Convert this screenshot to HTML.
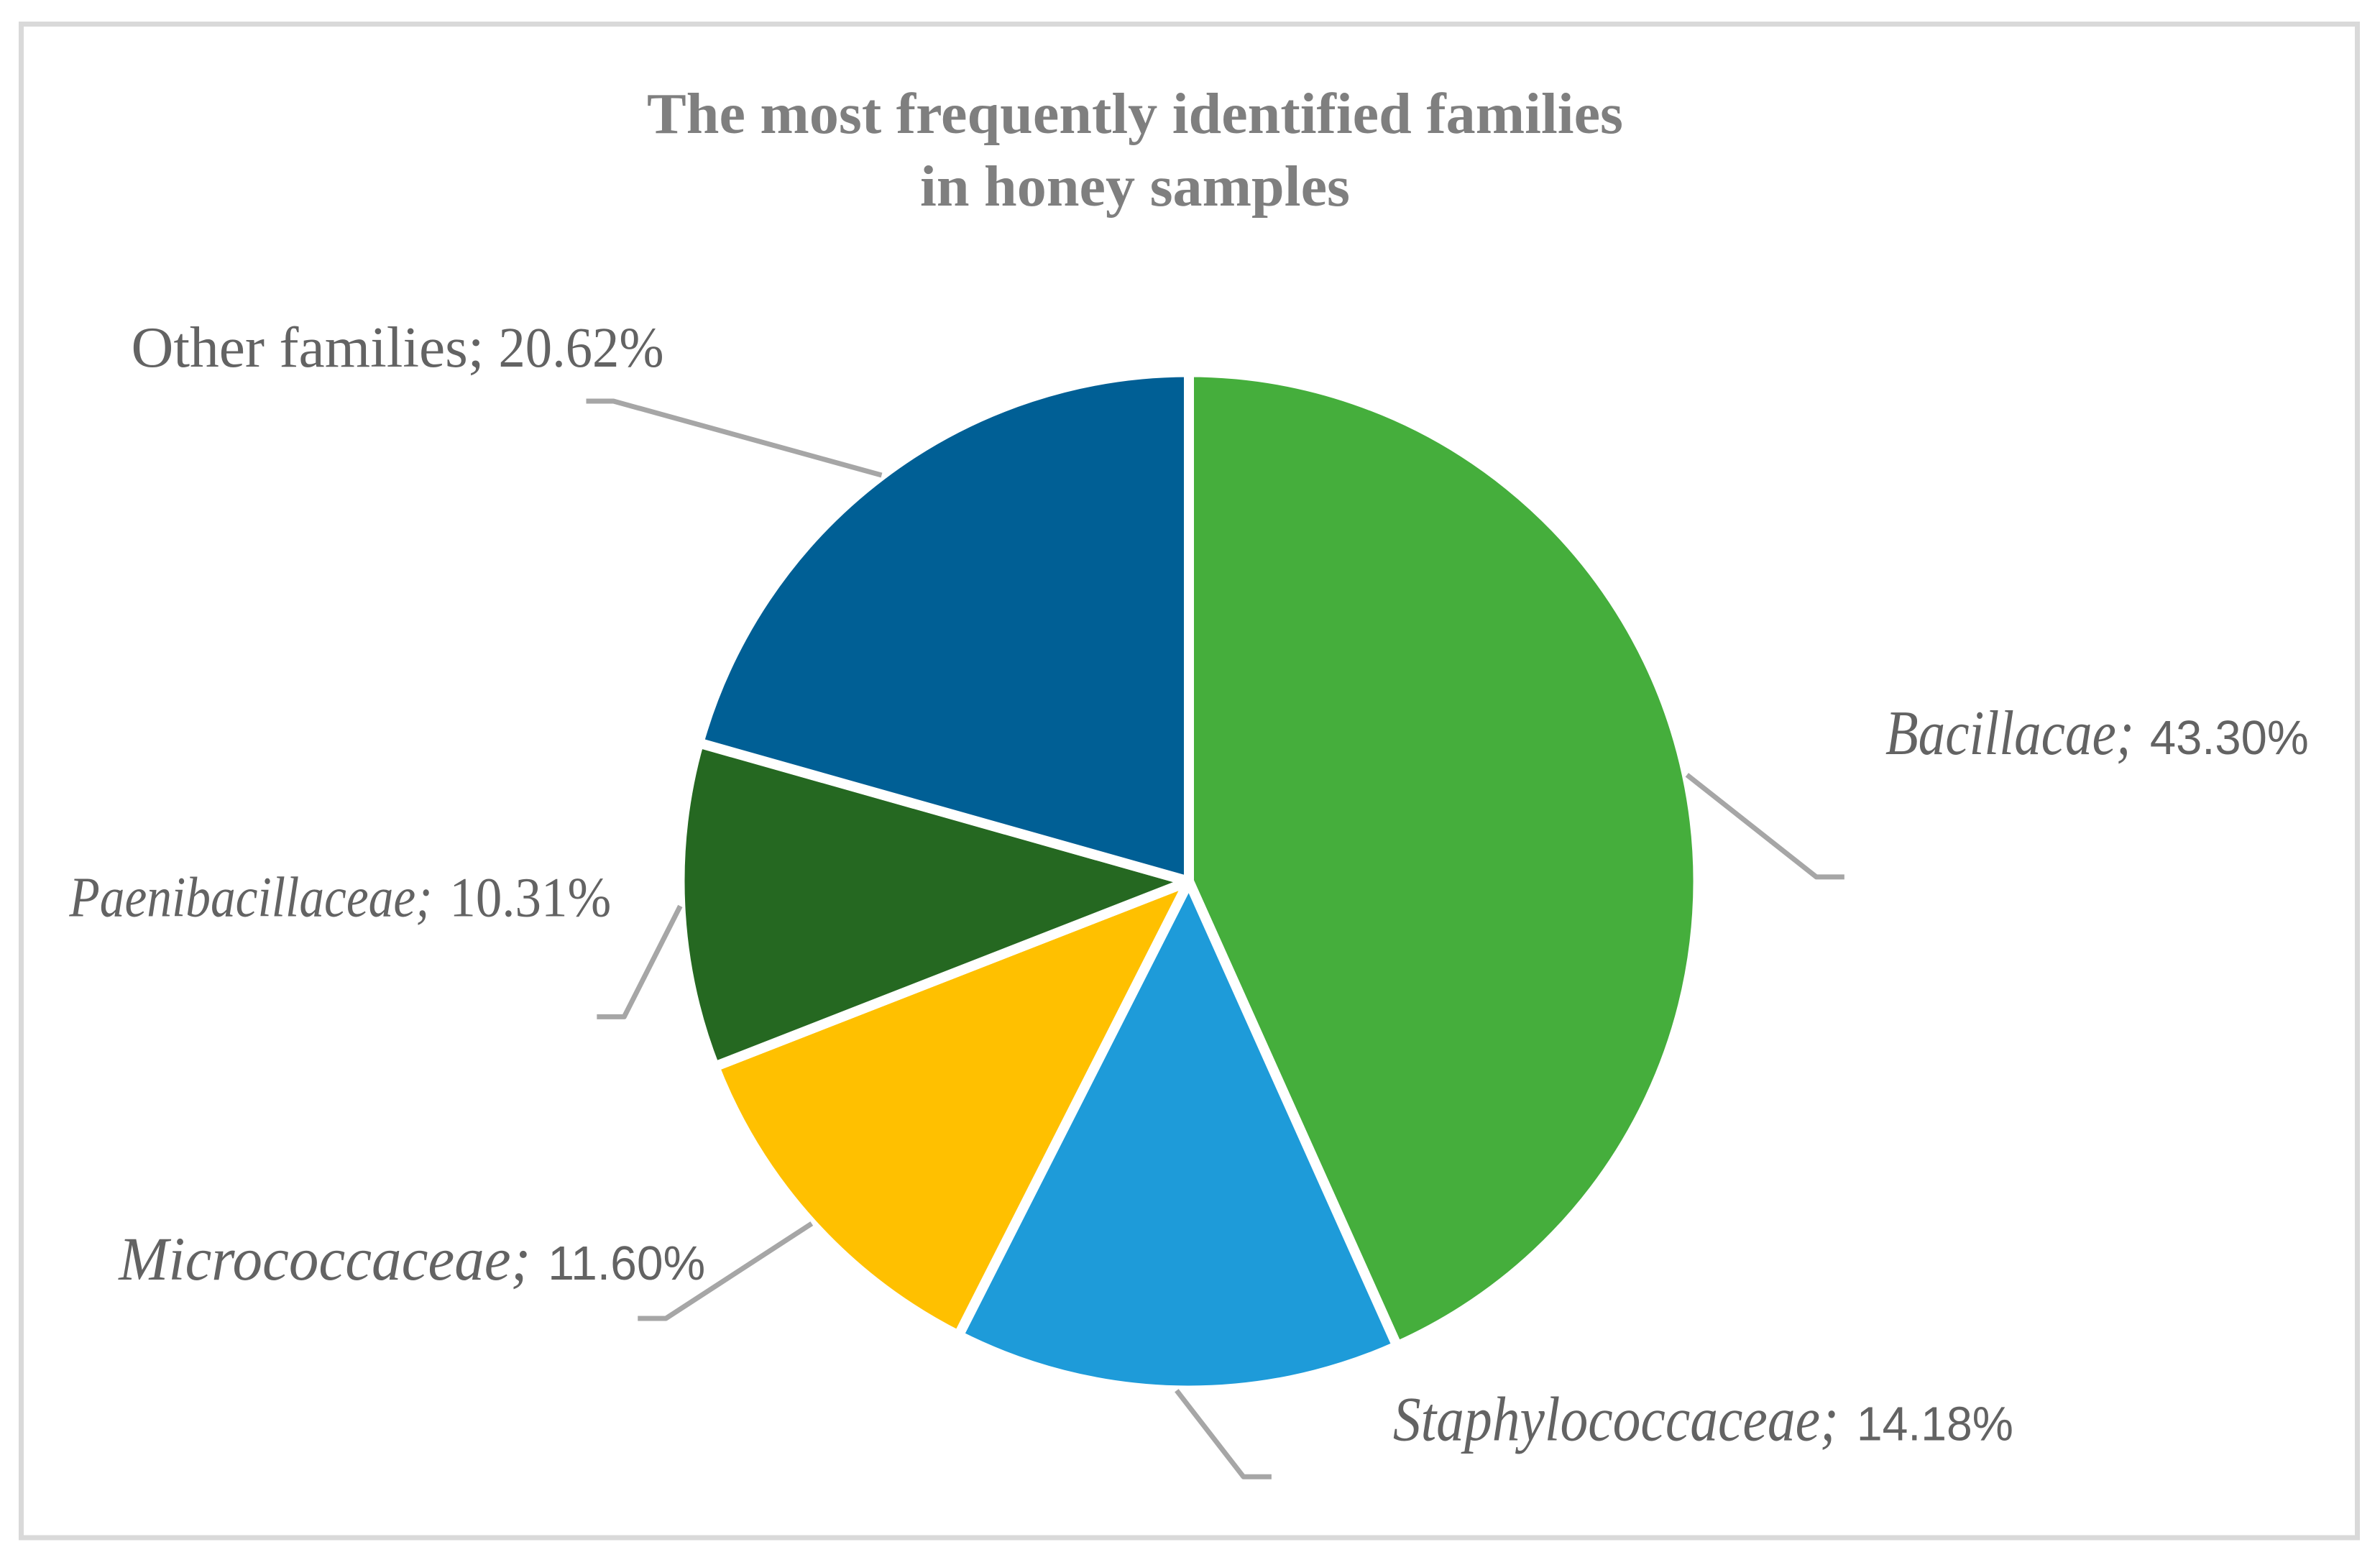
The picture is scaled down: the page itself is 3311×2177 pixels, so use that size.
<!DOCTYPE html>
<html lang="en">
<head>
<meta charset="utf-8">
<title>The most frequently identified families in honey samples</title>
<style>
  html, body { margin: 0; padding: 0; background: #ffffff; }
  body { width: 3311px; height: 2177px; overflow: hidden; }
  svg { display: block; }
  .title { font-family: "Liberation Serif", serif; font-weight: bold; font-size: 80px; fill: #7f7f7f; }
</style>
</head>
<body>
<svg id="chart" width="3311" height="2177" viewBox="0 0 3311 2177">
  <rect x="29.5" y="33.5" width="3250" height="2105.5" fill="#ffffff" stroke="#d9d9d9" stroke-width="7"></rect>
  <text class="title" x="900" y="185" textLength="1358" lengthAdjust="spacingAndGlyphs">The most frequently identified families</text>
  <text class="title" x="1280" y="286" textLength="598" lengthAdjust="spacingAndGlyphs">in honey samples</text>
  <g id="slices"></g>
  <g id="leaders"></g>
  <g id="labels"></g>
</svg>
<script>
// Chart data
const categories = ["Bacillacae", "Staphylococcaceae", "Micrococcaceae", "Paenibacillaceae", "Other families"];
const values = [43.30, 14.18, 11.60, 10.31, 20.62];

// Styling and label layout (not data)
const sliceColors = ["#45AE3C", "#1E9BD9", "#FFC000", "#256821", "#005F95"];
const slugs = ["bacillacae", "staphylococcaceae", "micrococcaceae", "paenibacillaceae", "other-families"];
const labelLayout = [
  { elbowDx: 180, elbowDy: 142, stub: 39, nameDx: 96, valueDx: 464, baseDy: -171, nameW: 346, valueW: 221, nameSize: 88, valueSize: 67, italic: true, valueFont: "sans" },
  { elbowDx: 93, elbowDy: 120, stub: 39, nameDx: 208, valueDx: 853, baseDy: -51, nameW: 620, valueW: 218, nameSize: 88, valueSize: 67, italic: true, valueFont: "sans" },
  { elbowDx: -203, elbowDy: 132, stub: -39, nameDx: -761, valueDx: -164, baseDy: -54, nameW: 573, valueW: 219, nameSize: 86, valueSize: 67, italic: true, valueFont: "sans" },
  { elbowDx: -78, elbowDy: 154, stub: -38, nameDx: -772, valueDx: -243, baseDy: -140, nameW: 505, valueW: 225, nameSize: 79, valueSize: 78, italic: true, valueFont: "serif" },
  { elbowDx: -373, elbowDy: -103, stub: -38, nameDx: -671, valueDx: -160, baseDy: -48, nameW: 491, valueW: 230, nameSize: 80, valueSize: 79, italic: false, valueFont: "serif" }
];

const cx = 1654;
const cy = 1226;
const radius = 708.5;
const ns = document.getElementById('chart').namespaceURI;
const sliceGroup = document.getElementById('slices');
const leaderGroup = document.getElementById('leaders');
const labelGroup = document.getElementById('labels');
const total = values.reduce(function (a, b) { return a + b; }, 0);

function angleOf(share) {
  return share / total * Math.PI * 2;
}
function pointAt(angle, r) {
  return [cx + Math.sin(angle) * r, cy - Math.cos(angle) * r];
}

let running = 0;
values.forEach(function (value, i) {
  const a0 = angleOf(running);
  const a1 = angleOf(running + value);
  const mid = (a0 + a1) / 2;
  running += value;

  const p0 = pointAt(a0, radius);
  const p1 = pointAt(a1, radius);
  const large = (a1 - a0) > Math.PI ? 1 : 0;
  const slice = document.createElementNS(ns, 'path');
  slice.setAttribute('d', 'M' + cx + ' ' + cy + ' L' + p0[0] + ' ' + p0[1] + ' A' + radius + ' ' + radius + ' 0 ' + large + ' 1 ' + p1[0] + ' ' + p1[1] + ' Z');
  slice.setAttribute('fill', sliceColors[i]);
  slice.setAttribute('stroke', '#ffffff');
  slice.setAttribute('stroke-width', '14');
  slice.setAttribute('stroke-linejoin', 'bevel');
  
  
  sliceGroup.appendChild(slice);

  const lay = labelLayout[i];
  const start = pointAt(mid, radius);
  const elbowX = start[0] + lay.elbowDx;
  const elbowY = start[1] + lay.elbowDy;

  const leader = document.createElementNS(ns, 'polyline');
  leader.setAttribute('points', start[0] + ',' + start[1] + ' ' + elbowX + ',' + elbowY + ' ' + (elbowX + lay.stub) + ',' + elbowY);
  leader.setAttribute('fill', 'none');
  leader.setAttribute('stroke', '#a6a6a6');
  leader.setAttribute('stroke-width', '7');
  leader.setAttribute('stroke-linejoin', 'round');
  
  
  leaderGroup.appendChild(leader);

  const nameText = document.createElementNS(ns, 'text');
  nameText.textContent = categories[i] + ';';
  nameText.setAttribute('x', elbowX + lay.nameDx);
  nameText.setAttribute('y', elbowY + lay.baseDy);
  nameText.setAttribute('textLength', lay.nameW);
  nameText.setAttribute('lengthAdjust', 'spacingAndGlyphs');
  nameText.setAttribute('font-family', '"Liberation Serif", serif');
  nameText.setAttribute('font-size', lay.nameSize);
  nameText.setAttribute('font-style', lay.italic ? 'italic' : 'normal');
  nameText.setAttribute('fill', '#636363');
  
  
  labelGroup.appendChild(nameText);

  const valueText = document.createElementNS(ns, 'text');
  valueText.textContent = value.toFixed(2) + '%';
  valueText.setAttribute('x', elbowX + lay.valueDx);
  valueText.setAttribute('y', elbowY + lay.baseDy);
  valueText.setAttribute('textLength', lay.valueW);
  valueText.setAttribute('lengthAdjust', 'spacingAndGlyphs');
  valueText.setAttribute('font-family', lay.valueFont === 'sans' ? '"Liberation Sans", sans-serif' : '"Liberation Serif", serif');
  valueText.setAttribute('font-size', lay.valueSize);
  valueText.setAttribute('fill', '#636363');
  
  
  labelGroup.appendChild(valueText);
});
</script>
</body>
</html>
